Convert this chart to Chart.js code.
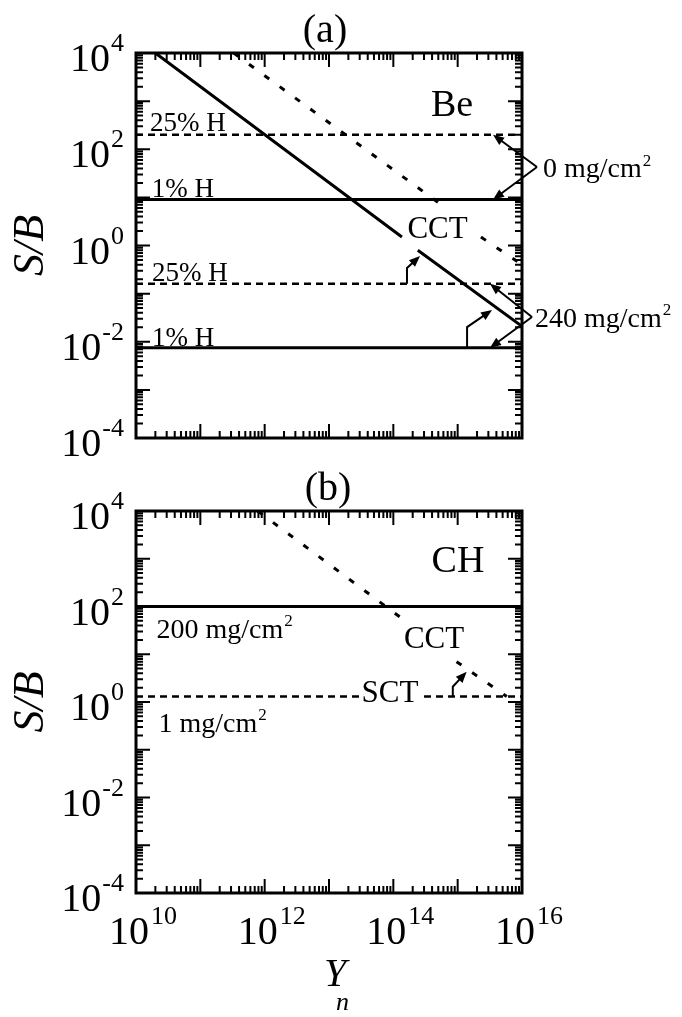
<!DOCTYPE html>
<html>
<head>
<meta charset="utf-8">
<script src="https://cdn.jsdelivr.net/npm/chart.js@4.4.1/dist/chart.umd.min.js"></script>
<style>
  html, body { margin: 0; padding: 0; background: #fff; }
  #wrap { position: relative; width: 682px; height: 1017px; overflow: hidden; }
  canvas { position: absolute; left: 0; }
</style>
</head>
<body>
<div id="wrap">
  <canvas id="panelA" width="682" height="470" style="top:0px"></canvas>
  <canvas id="panelB" width="682" height="547" style="top:470px"></canvas>
</div>
<script>
// ---- data ----
const ynEnds = [1e10, 1e16];

// (a) Be
const beH25At0 = [200, 200];
const beH1At0 = [9, 9];
const beH25At240 = [0.16, 0.16];
const beH1At240 = [0.0075, 0.0075];
const beSolidYn = [2e10, 1.36e14, 1.8e14, 2.4e14, 1e16];
const beSolidSB = [1e4, 1.5, null, 0.8, 0.021];
const beDotYn = [3.3e11, 5.2e14, 1e15, 2.3e15, 1e16];
const beDotSB = [1e4, 7.5, null, 1.5, 0.4];

// (b) CH
const chSolidAt200 = [100, 100];
const chSctYn = [1e10, 3.2e13, 1e14, 3e14, 1e16];
const chSctSB = [1.3, 1.3, null, 1.3, 1.3];
const chCctYn = [7.8e11, 1.34e14, 4e14, 9.6e14, 5.8e15];
const chCctSB = [1e4, 57, null, 7, 1.3];

const xTickPowers = [10, 12, 14, 16];
const yTickPowers = [-4, -2, 0, 2, 4];

const FONT = "'Liberation Serif', 'Times New Roman', serif";

function series(xs, ys) {
  return xs.map((v, i) => ({ x: v, y: ys[i] }));
}

function line(data, dash, width) {
  return {
    data: data, borderColor: '#000', borderWidth: width, borderDash: dash,
    borderCapStyle: 'butt', pointRadius: 0, fill: false, tension: 0, spanGaps: false
  };
}

// annotations, in data coordinates
const textsA = [
  { t: 'Be', x: 8.2e14, y: 910, size: 38, align: 'center' },
  { t: '25% H', x: 1.65e10, y: 360, size: 27, align: 'left' },
  { t: '1% H', x: 1.75e10, y: 15.3, size: 27, align: 'left' },
  { t: '25% H', x: 1.77e10, y: 0.275, size: 27, align: 'left' },
  { t: '1% H', x: 1.77e10, y: 0.01225, size: 27, align: 'left' },
  { t: 'CCT', x: 4.87e14, y: 2.31, size: 31, align: 'center' },
  { t: '0 mg/cm', sup: '2', x: 2.12e16, y: 40.7, size: 28, align: 'left' },
  { t: '240 mg/cm', sup: '2', x: 1.59e16, y: 0.0312, size: 28, align: 'left' }
];
const arrowsA = [
  [[1.71e16, 42.8], [3.55e15, 200]],
  [[1.71e16, 42.8], [3.55e15, 9]],
  [[1.43e16, 0.0327], [3.18e15, 0.16]],
  [[1.43e16, 0.0327], [3.18e15, 0.0075]],
  [[1.63e14, 0.16], [1.63e14, 0.34], [2.6e14, 0.605]],
  [[1.4e15, 0.0075], [1.4e15, 0.0202], [3.42e15, 0.0457]]
];
const textsB = [
  { t: 'CH', x: 1.01e15, y: 989, size: 38, align: 'center' },
  { t: '200 mg/cm', sup: '2', x: 2.08e10, y: 33.8, size: 28, align: 'left' },
  { t: '1 mg/cm', sup: '2', x: 2.24e10, y: 0.363, size: 28, align: 'left' },
  { t: 'CCT', x: 4.29e14, y: 21.9, size: 31, align: 'center' },
  { t: 'SCT', x: 8.87e13, y: 1.62, size: 31, align: 'center' }
];
const arrowsB = [
  [[8.4e14, 1.3], [8.4e14, 2.09], [1.38e15, 4.3]]
];

function pt(chart, p) {
  return [chart.scales.x.getPixelForValue(p[0]), chart.scales.y.getPixelForValue(p[1])];
}

function drawArrow(ctx, pts) {
  const n = pts.length;
  const [x1, y1] = pts[n - 2], [x2, y2] = pts[n - 1];
  const ang = Math.atan2(y2 - y1, x2 - x1);
  const L = 11, W = 4.5;
  const c = Math.cos(ang), s = Math.sin(ang);
  ctx.beginPath();
  ctx.moveTo(pts[0][0], pts[0][1]);
  for (let i = 1; i < n - 1; i++) ctx.lineTo(pts[i][0], pts[i][1]);
  ctx.lineTo(x2 - L * 0.7 * c, y2 - L * 0.7 * s);
  ctx.stroke();
  ctx.beginPath();
  ctx.moveTo(x2, y2);
  ctx.lineTo(x2 - L * c + W * s, y2 - L * s - W * c);
  ctx.lineTo(x2 - L * c - W * s, y2 - L * s + W * c);
  ctx.closePath();
  ctx.fill();
}

function drawLabel(ctx, item, X, Y) {
  ctx.font = item.size + 'px ' + FONT;
  const w = ctx.measureText(item.t).width;
  let supW = 0, supSize = Math.round(item.size * 0.62);
  if (item.sup) {
    ctx.font = supSize + 'px ' + FONT;
    supW = ctx.measureText(item.sup).width;
  }
  let left = item.align === 'center' ? X - (w + supW) / 2 : X;
  const base = Y + 0.33 * item.size;
  ctx.textAlign = 'left';
  ctx.textBaseline = 'alphabetic';
  ctx.font = item.size + 'px ' + FONT;
  ctx.fillText(item.t, left, base);
  if (item.sup) {
    ctx.font = supSize + 'px ' + FONT;
    ctx.fillText(item.sup, left + w + 1, base - item.size * 0.42);
  }
}

function powText(ctx, p) {
  const sup = String(p).replace('-', '-');
  ctx.font = '40px ' + FONT;
  const wb = ctx.measureText('10').width;
  ctx.font = '26px ' + FONT;
  const ws = ctx.measureText(sup).width;
  return { sup, wb, ws };
}

function makePanel(id, cfg) {
  const deco = {
    id: 'deco' + id,
    afterDatasetsDraw(chart) {
      const { ctx, chartArea: a, scales: { x, y } } = chart;
      ctx.save();
      ctx.fillStyle = '#000';
      ctx.strokeStyle = '#000';

      // inward ticks on all four sides
      ctx.lineWidth = 2;
      ctx.beginPath();
      const lx0 = Math.round(Math.log10(x.min)), lx1 = Math.round(Math.log10(x.max));
      for (let p = lx0; p <= lx1; p++) {
        for (let m = 1; m <= 9; m++) {
          const v = m * Math.pow(10, p);
          if (v > x.max * 1.0001) break;
          const X = x.getPixelForValue(v);
          const len = m === 1 ? 14 : 7;
          ctx.moveTo(X, a.bottom); ctx.lineTo(X, a.bottom - len);
          ctx.moveTo(X, a.top); ctx.lineTo(X, a.top + len);
        }
      }
      const ly0 = Math.round(Math.log10(y.min)), ly1 = Math.round(Math.log10(y.max));
      for (let p = ly0; p <= ly1; p++) {
        for (let m = 1; m <= 9; m++) {
          const v = m * Math.pow(10, p);
          if (v > y.max * 1.0001) break;
          const Y = y.getPixelForValue(v);
          const len = m === 1 ? 14 : 7;
          ctx.moveTo(a.left, Y); ctx.lineTo(a.left + len, Y);
          ctx.moveTo(a.right, Y); ctx.lineTo(a.right - len, Y);
        }
      }
      ctx.stroke();

      // frame
      ctx.lineWidth = 3;
      ctx.strokeRect(a.left, a.top, a.right - a.left, a.bottom - a.top);

      // y tick labels
      yTickPowers.forEach(p => {
        const Y = y.getPixelForValue(Math.pow(10, p));
        const m = powText(ctx, p);
        const right = a.left - 12;
        ctx.textAlign = 'left';
        ctx.textBaseline = 'alphabetic';
        ctx.font = '40px ' + FONT;
        ctx.fillText('10', right - m.ws - m.wb - 1, Y + 5 + 13.2);
        ctx.font = '26px ' + FONT;
        ctx.fillText(m.sup, right - m.ws, Y - 10.5 + 8.6);
      });

      // x tick labels (bottom panel only)
      if (cfg.xLabels) {
        xTickPowers.forEach(p => {
          const X = x.getPixelForValue(Math.pow(10, p));
          const m = powText(ctx, p);
          const left = X - 7 - m.wb / 2;
          ctx.textAlign = 'left';
          ctx.textBaseline = 'alphabetic';
          ctx.font = '40px ' + FONT;
          ctx.fillText('10', left, a.bottom + 38 + 13.2);
          ctx.font = '26px ' + FONT;
          ctx.fillText(m.sup, left + m.wb + 2, a.bottom + 22 + 8.6);
        });
        ctx.font = 'italic 40px ' + FONT;
        ctx.textAlign = 'center';
        ctx.fillText('Y', 335, a.bottom + 80 + 13);
        ctx.font = 'italic 26px ' + FONT;
        ctx.fillText('n', 342.5, a.bottom + 111 + 6);
      }

      // y axis title
      ctx.save();
      ctx.translate(31, (a.top + a.bottom) / 2);
      ctx.rotate(-Math.PI / 2);
      ctx.font = 'italic 44px ' + FONT;
      ctx.textAlign = 'center';
      ctx.textBaseline = 'middle';
      ctx.fillText('S/B', 0, 0);
      ctx.restore();

      // panel letter
      ctx.font = '40px ' + FONT;
      ctx.textAlign = 'center';
      ctx.textBaseline = 'middle';
      ctx.fillText(cfg.letter, cfg.letterX, a.top - 22);

      // labels and arrows
      cfg.texts.forEach(item => {
        const [X, Y] = pt(chart, [item.x, item.y]);
        drawLabel(ctx, item, X, Y);
      });
      ctx.lineWidth = 2;
      cfg.arrows.forEach(path => drawArrow(ctx, path.map(p => pt(chart, p))));
      ctx.restore();
    }
  };

  return new Chart(document.getElementById(id), {
    type: 'line',
    data: { datasets: cfg.datasets },
    options: {
      responsive: false,
      animation: false,
      layout: { padding: cfg.padding },
      plugins: { legend: { display: false }, tooltip: { enabled: false } },
      scales: {
        x: { type: 'logarithmic', min: 1e10, max: 1e16, display: false },
        y: { type: 'logarithmic', min: 1e-4, max: 1e4, display: false }
      }
    },
    plugins: [deco]
  });
}

makePanel('panelA', {
  letter: '(a)', letterX: 325,
  padding: { left: 136, right: 160, top: 53, bottom: 32 },
  xLabels: false,
  texts: textsA, arrows: arrowsA,
  datasets: [
    line(series(ynEnds, beH25At0), [7, 5], 2.5),
    line(series(ynEnds, beH1At0), [], 3),
    line(series(ynEnds, beH25At240), [7, 5], 2.5),
    line(series(ynEnds, beH1At240), [], 3),
    line(series(beSolidYn, beSolidSB), [], 3),
    line(series(beDotYn, beDotSB), [6, 13], 3)
  ]
});

makePanel('panelB', {
  letter: '(b)', letterX: 328,
  padding: { left: 136, right: 160, top: 41, bottom: 124 },
  xLabels: true,
  texts: textsB, arrows: arrowsB,
  datasets: [
    line(series(ynEnds, chSolidAt200), [], 3),
    line(series(chSctYn, chSctSB), [7, 5], 2.5),
    line(series(chCctYn, chCctSB), [6, 13], 3)
  ]
});
</script>
</body>
</html>
